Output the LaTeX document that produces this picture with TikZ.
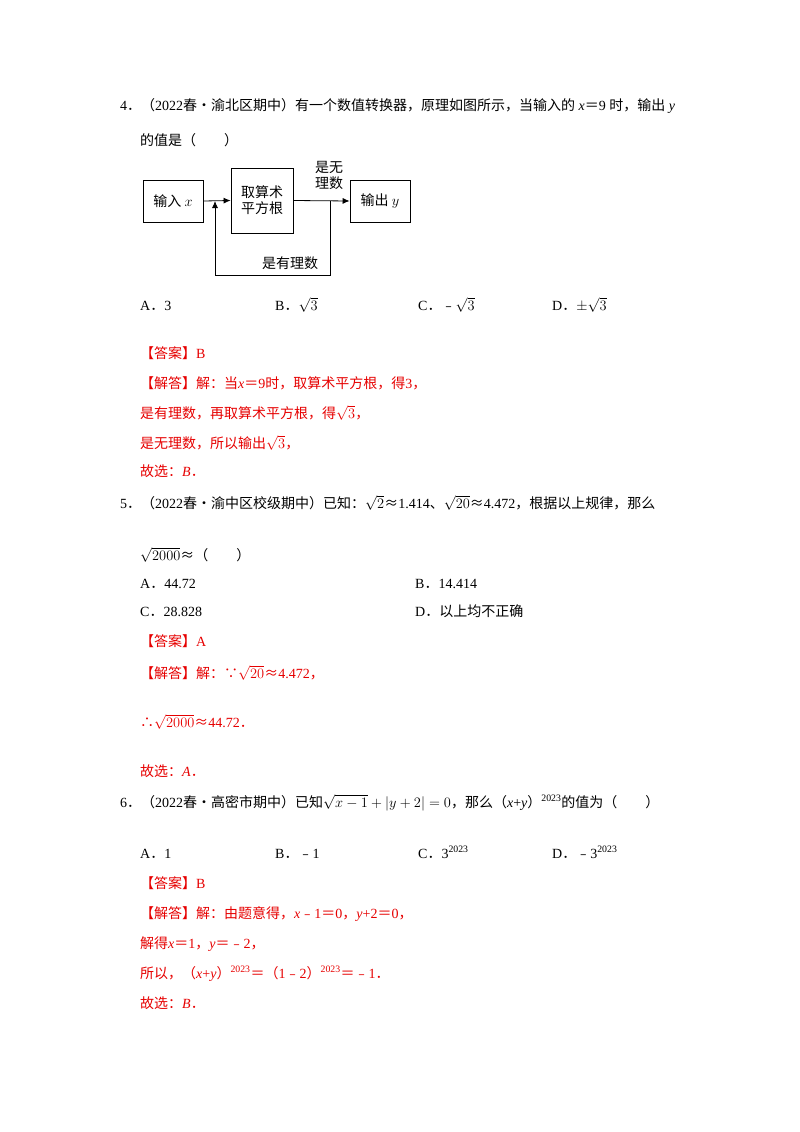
\documentclass[tikz,border=0pt]{standalone}
\usepackage{fontspec}
\usetikzlibrary{arrows.meta}
\setmainfont{Liberation Serif}
\setsansfont{Liberation Sans}
\newfontfamily\cjk{Noto Sans CJK SC}
\newcommand\zh[1]{{\cjk #1}}
\definecolor{ans}{RGB}{230,0,0}
\begin{document}
\begin{tikzpicture}[x=1pt,y=-1pt,
  txt/.style={anchor=base west,inner sep=0pt,font=\fontsize{14}{16}\selectfont},
  rtxt/.style={txt,text=ans},
  bx/.style={draw,thick,minimum height=42pt,font=\fontsize{14}{16}\selectfont\cjk},
  lbl/.style={font=\fontsize{14}{16}\selectfont\cjk,align=center,inner sep=0pt},
  arr/.style={thick,-{Latex[length=7pt,width=6pt]}}]
\useasboundingbox (0,0) rectangle (800,1132);
% Q4
\node[txt] (q4a) at (120,110) {4\zh{．（}2022\zh{春•渝北区期中）有一个数值转换器，原理如图所示，当输入的} \textit{x}\zh{＝}9 \zh{时，输出} \textit{y}};
\node[txt] (q4b) at (140,145) {\zh{的值是（\quad\quad）}};
\node[bx,minimum width=60pt] (in) at (173,201) {输入 $x$};
\node[bx,minimum width=62pt,minimum height=65pt,align=center] (sq) at (262,200.5) {取算术\\平方根};
\node[bx,minimum width=60pt] (out) at (380,201) {输出 $y$};
\coordinate (j) at (215,201);
\coordinate (s) at (330,201);
\coordinate (s1) at (330,275);
\coordinate (j1) at (215,275);
\draw[arr] (in.east) -- (sq.west);
\draw[arr] (sq.east) -- (out.west);
\draw[arr] (s) -- (s1) -- (j1) -- (j);
\node[lbl] (l1) at (329,175) {是无\\理数};
\node[lbl] (l2) at (290,263) {是有理数};
\node[txt] (o4a) at (140,310) {A\zh{．}3};
\node[txt] (o4b) at (275,310) {B\zh{．}$\sqrt{3}$};
\node[txt] (o4c) at (418,310) {C\zh{．}\zh{﹣}$\sqrt{3}$};
\node[txt] (o4d) at (552,310) {D\zh{．}$\pm\sqrt{3}$};
\node[rtxt] (a4) at (140,358) {\zh{【答案】}B};
\node[rtxt] (s4a) at (140,388) {\zh{【解答】解：当}\textit{x}\zh{＝}9\zh{时，取算术平方根，得}3\zh{，}};
\node[rtxt] (s4b) at (140,418) {\zh{是有理数，再取算术平方根，得}$\sqrt{3}$\zh{，}};
\node[rtxt] (s4c) at (140,448) {\zh{是无理数，所以输出}$\sqrt{3}$\zh{，}};
\node[rtxt] (s4d) at (140,476) {\zh{故选：}\textit{B}\zh{．}};
% Q5
\node[txt] (q5a) at (120,508) {5\zh{．（}2022\zh{春•渝中区校级期中）已知：}$\sqrt{2}$\zh{≈}1.414\zh{、}$\sqrt{20}$\zh{≈}4.472\zh{，根据以上规律，那么}};
\node[txt] (q5b) at (140,560) {$\sqrt{2000}$\zh{≈（\quad\quad）}};
\node[txt] (o5a) at (140,588) {A\zh{．}44.72};
\node[txt] (o5b) at (415,588) {B\zh{．}14.414};
\node[txt] (o5c) at (140,616) {C\zh{．}28.828};
\node[txt] (o5d) at (415,616) {D\zh{．以上均不正确}};
\node[rtxt] (a5) at (140,646) {\zh{【答案】}A};
\node[rtxt] (s5a) at (140,678) {\zh{【解答】解：∵}$\sqrt{20}$\zh{≈}4.472\zh{，}};
\node[rtxt] (s5b) at (140,727) {\zh{∴}$\sqrt{2000}$\zh{≈}44.72\zh{．}};
\node[rtxt] (s5c) at (140,776) {\zh{故选：}\textit{A}\zh{．}};
% Q6
\node[txt] (q6a) at (120,807) {6\zh{．（}2022\zh{春•高密市期中）已知}$\sqrt{x-1}+|y+2|=0$\zh{，那么（}\textit{x}+\textit{y}\zh{）}\textsuperscript{2023}\zh{的值为（\quad\quad）}};
\node[txt] (o6a) at (140,858) {A\zh{．}1};
\node[txt] (o6b) at (275,858) {B\zh{．﹣}1};
\node[txt] (o6c) at (418,858) {C\zh{．}3\textsuperscript{2023}};
\node[txt] (o6d) at (552,858) {D\zh{．﹣}3\textsuperscript{2023}};
\node[rtxt] (a6) at (140,888) {\zh{【答案】}B};
\node[rtxt] (s6a) at (140,918) {\zh{【解答】解：由题意得，}\textit{x}\zh{﹣}1\zh{＝}0\zh{，}\textit{y}+2\zh{＝}0\zh{，}};
\node[rtxt] (s6b) at (140,948) {\zh{解得}\textit{x}\zh{＝}1\zh{，}\textit{y}\zh{＝﹣}2\zh{，}};
\node[rtxt] (s6c) at (140,978) {\zh{所以，（}\textit{x}+\textit{y}\zh{）}\textsuperscript{2023}\zh{＝（}1\zh{﹣}2\zh{）}\textsuperscript{2023}\zh{＝﹣}1\zh{．}};
\node[rtxt] (s6d) at (140,1008) {\zh{故选：}\textit{B}\zh{．}};
\end{tikzpicture}
\end{document}
